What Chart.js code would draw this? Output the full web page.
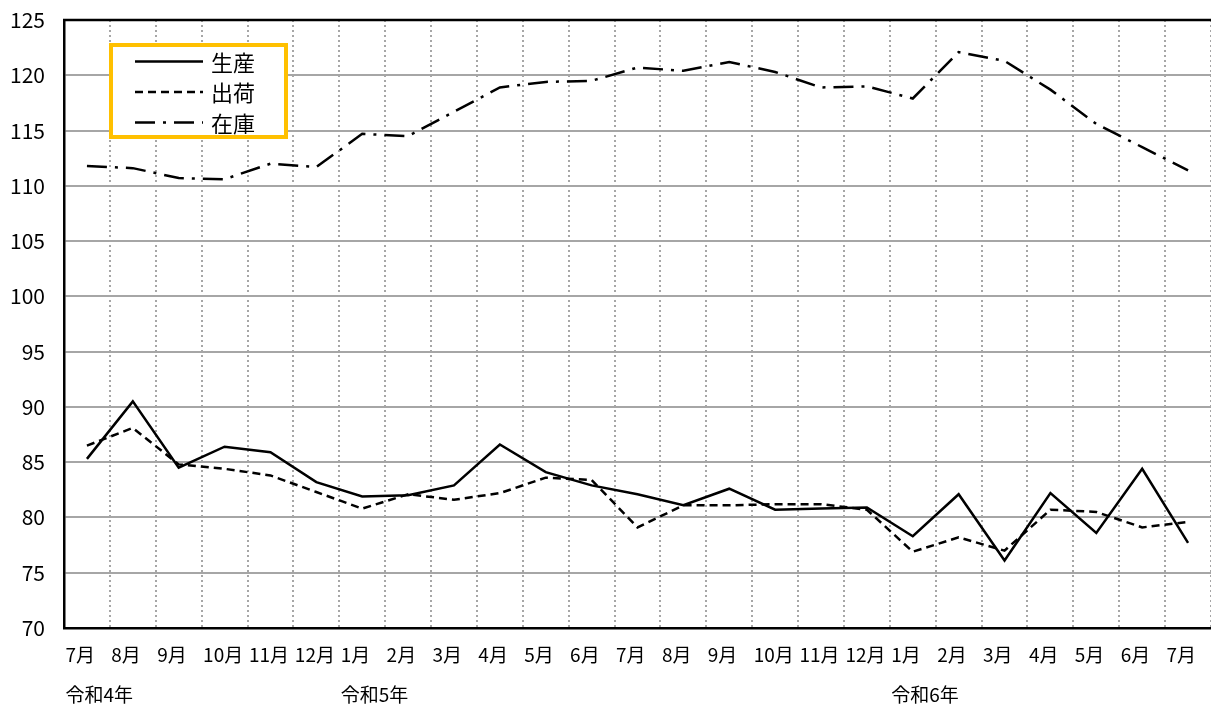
<!DOCTYPE html>
<html>
<head>
<meta charset="utf-8">
<script src="https://cdn.jsdelivr.net/npm/chart.js@4/dist/chart.umd.min.js"></script>
<style>
html,body{margin:0;padding:0;background:#fff;}
#wrap{width:1211px;height:711px;position:relative;}
</style>
</head>
<body>
<div id="wrap"><canvas id="c"></canvas></div>
<script>
const months = ['7月','8月','9月','10月','11月','12月','1月','2月','3月','4月','5月','6月','7月','8月','9月','10月','11月','12月','1月','2月','3月','4月','5月','6月','7月'];
const eraLabels = ['令和4年','','','','','','令和5年','','','','','','','','','','','','令和6年','','','','','',''];
const production = [85.3, 90.5, 84.5, 86.4, 85.9, 83.2, 81.9, 82.0, 82.9, 86.6, 84.1, 82.9, 82.1, 81.1, 82.6, 80.7, 80.8, 80.9, 78.3, 82.1, 76.1, 82.2, 78.6, 84.4, 77.7];
const shipments = [86.5, 88.1, 84.8, 84.4, 83.8, 82.3, 80.8, 82.1, 81.6, 82.2, 83.6, 83.4, 79.1, 81.1, 81.1, 81.2, 81.2, 80.7, 76.9, 78.2, 77.0, 80.7, 80.5, 79.1, 79.6];
const inventory = [111.8, 111.6, 110.7, 110.6, 112.0, 111.7, 114.7, 114.5, 116.7, 118.9, 119.4, 119.5, 120.7, 120.4, 121.2, 120.3, 118.9, 119.0, 117.9, 122.1, 121.3, 118.7, 115.6, 113.5, 111.4];
const seriesNames = ['生産','出荷','在庫'];

const labels = months.map((m, i) => eraLabels[i] ? [m, eraLabels[i]] : m);
const FONT = '"Noto Sans CJK JP", "Noto Sans", sans-serif';

const frameAndLegend = {
  id: 'frameAndLegend',
  afterDraw(chart) {
    const ctx = chart.ctx;
    const a = chart.chartArea;
    ctx.save();
    ctx.strokeStyle = '#000';
    ctx.lineWidth = 2.5;
    ctx.setLineDash([]);
    ctx.beginPath();
    ctx.moveTo(a.left - 1, a.top);
    ctx.lineTo(chart.width, a.top);
    ctx.stroke();
    const bx = 111, by = 45, bw = 175, bh = 92;
    ctx.fillStyle = '#fff';
    ctx.fillRect(bx, by, bw, bh);
    ctx.strokeStyle = '#FFC000';
    ctx.lineWidth = 4;
    ctx.strokeRect(bx, by, bw, bh);
    const rows = [61.5, 92, 122.5];
    ctx.font = '22px ' + FONT;
    ctx.textBaseline = 'middle';
    ctx.textAlign = 'left';
    chart.data.datasets.forEach((ds, i) => {
      const y = rows[i];
      ctx.strokeStyle = ds.borderColor;
      ctx.lineWidth = ds.borderWidth;
      ctx.setLineDash(ds.borderDash || []);
      ctx.beginPath();
      ctx.moveTo(135, y);
      ctx.lineTo(203, y);
      ctx.stroke();
      ctx.setLineDash([]);
      ctx.fillStyle = '#000';
      ctx.fillText(ds.label, 211, y + 1);
    });
    ctx.restore();
  }
};

new Chart(document.getElementById('c'), {
  type: 'line',
  data: {
    labels: labels,
    datasets: [
      { label: seriesNames[0], data: production, borderColor: '#000', borderWidth: 2.5, borderDash: [], pointRadius: 0, tension: 0, fill: false },
      { label: seriesNames[1], data: shipments, borderColor: '#000', borderWidth: 2.5, borderDash: [8, 5], pointRadius: 0, tension: 0, fill: false },
      { label: seriesNames[2], data: inventory, borderColor: '#000', borderWidth: 2.5, borderDash: [20, 8, 3, 8], pointRadius: 0, tension: 0, fill: false }
    ]
  },
  options: {
    responsive: true,
    maintainAspectRatio: false,
    animation: false,
    layout: { padding: { top: 20, right: -1, left: 0, bottom: 0 } },
    plugins: { legend: { display: false }, tooltip: { enabled: false } },
    scales: {
      x: {
        offset: true,
        afterFit: s => { s.height = 83; s.paddingLeft = 0; s.paddingRight = 0; },
        grid: { offset: true, color: '#A6A6A6', lineWidth: 2, drawTicks: false },
        border: { display: true, color: '#000', width: 2.5, dash: [2, 3] },
        ticks: {
          color: '#000',
          font: { size: 19, family: FONT, lineHeight: 40 / 19 },
          padding: 7,
          align: 'start',
          labelOffset: -21.5,
          maxRotation: 0,
          autoSkip: false
        }
      },
      y: {
        min: 70,
        max: 125,
        afterFit: s => { s.width = 64; s.paddingTop = 0; s.paddingBottom = 0; },
        grid: { color: '#A6A6A6', lineWidth: 2, drawTicks: false },
        border: { display: true, color: '#000', width: 2.5 },
        ticks: {
          stepSize: 5,
          color: '#000',
          font: { size: 21, family: FONT },
          padding: 19
        }
      }
    }
  },
  plugins: [frameAndLegend]
});
</script>
</body>
</html>
